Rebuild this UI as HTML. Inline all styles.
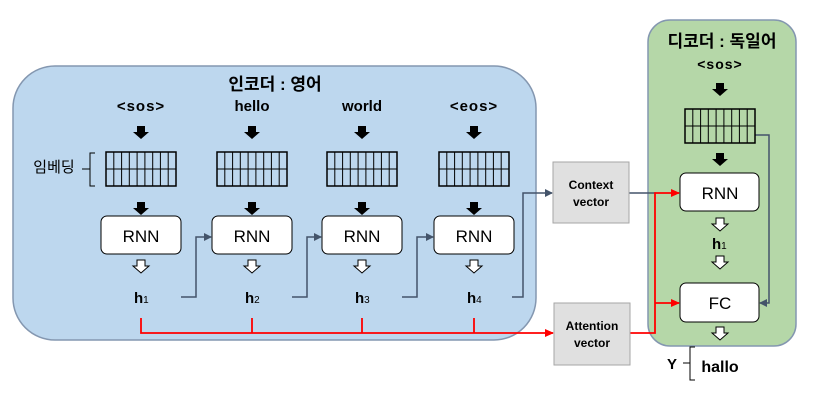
<!DOCTYPE html>
<html><head><meta charset="utf-8"><style>
body{margin:0;width:814px;height:412px;background:#fff;overflow:hidden}
text{font-family:"Liberation Sans","Noto Sans CJK KR",sans-serif}
</style></head><body>
<svg width="814" height="412" viewBox="0 0 814 412">
<defs>
<marker id="ag" markerWidth="8" markerHeight="8" refX="7" refY="4" orient="auto" markerUnits="userSpaceOnUse"><path d="M0,0 L8,4 L0,8 Z" fill="#44546a"/></marker>
<marker id="ar" markerWidth="9" markerHeight="8" refX="8" refY="4" orient="auto" markerUnits="userSpaceOnUse"><path d="M0,0 L9,4 L0,8 Z" fill="#f00"/></marker>
<g id="grid"><rect x="0" y="0" width="70" height="34" fill="none" stroke="#000" stroke-width="1.5"/>
<path d="M0,17H70M7.8,0V34M15.6,0V34M23.3,0V34M31.1,0V34M38.9,0V34M46.7,0V34M54.4,0V34M62.2,0V34" stroke="#000" stroke-width="1"/></g>
<path id="ba" d="M-4,0H4V6H8L0,13L-8,6H-4Z" fill="#000"/>
<path id="wa" d="M-4,0H4V6H8L0,13L-8,6H-4Z" fill="#fff" stroke="#000" stroke-width="1"/>
</defs>
<rect x="13" y="66" width="523" height="274" rx="42" fill="#bdd7ee" stroke="#8497b0" stroke-width="1.5"/>
<rect x="648" y="20" width="148" height="326" rx="22" fill="#b5d7a8" stroke="#8497b0" stroke-width="1.5"/>
<text x="275" y="90" font-size="17" font-weight="bold" text-anchor="middle">인코더 : 영어</text>
<text x="722" y="47" font-size="17" font-weight="bold" text-anchor="middle">디코더 : 독일어</text>
<text x="54" y="172" font-size="15" text-anchor="middle">임베딩</text>
<path d="M95,153 H90 V169 H82 M90,169 V186 H95" fill="none" stroke="#000"/>
<g font-size="15" font-weight="bold" text-anchor="middle">
<text x="141" y="111" letter-spacing="1">&lt;sos&gt;</text><text x="252" y="111">hello</text><text x="362" y="111">world</text><text x="474" y="111" letter-spacing="1">&lt;eos&gt;</text>
<text x="720" y="69" font-size="14" letter-spacing="1">&lt;sos&gt;</text>
</g>
<g>
<use href="#ba" x="141" y="126"/><use href="#ba" x="252" y="126"/><use href="#ba" x="362" y="126"/><use href="#ba" x="474" y="126"/>
<use href="#grid" x="106" y="152"/><use href="#grid" x="217" y="152"/><use href="#grid" x="327" y="152"/><use href="#grid" x="439" y="152"/>
<use href="#ba" x="141" y="202"/><use href="#ba" x="252" y="202"/><use href="#ba" x="362" y="202"/><use href="#ba" x="474" y="202"/>
<use href="#wa" x="141" y="260"/><use href="#wa" x="252" y="260"/><use href="#wa" x="362" y="260"/><use href="#wa" x="474" y="260"/>
</g>
<g fill="#fff" stroke="#000" stroke-width="1">
<rect x="101" y="216" width="80" height="38" rx="6"/><rect x="212" y="216" width="80" height="38" rx="6"/><rect x="322" y="216" width="80" height="38" rx="6"/><rect x="434" y="216" width="80" height="38" rx="6"/>
<rect x="680" y="173" width="79" height="38" rx="6"/><rect x="680" y="283" width="79" height="39" rx="6"/>
</g>
<g font-size="17" text-anchor="middle">
<text x="141" y="242">RNN</text><text x="252" y="242">RNN</text><text x="362" y="242">RNN</text><text x="474" y="242">RNN</text>
<text x="720" y="199">RNN</text><text x="720" y="309">FC</text>
</g>
<g font-size="15" font-weight="bold">
<text x="134" y="303">h<tspan font-size="10" font-weight="normal">1</tspan></text>
<text x="245" y="303">h<tspan font-size="10" font-weight="normal">2</tspan></text>
<text x="355" y="303">h<tspan font-size="10" font-weight="normal">3</tspan></text>
<text x="467" y="303">h<tspan font-size="10" font-weight="normal">4</tspan></text>
<text x="712" y="249">h<tspan font-size="10" font-weight="normal">1</tspan></text>
</g>
<g fill="none" stroke="#44546a" stroke-width="1.5">
<path d="M181,297H196V237H211" marker-end="url(#ag)"/>
<path d="M292,297H307V237H321" marker-end="url(#ag)"/>
<path d="M402,297H417V237H433" marker-end="url(#ag)"/>
<path d="M512,297H523V193H552" marker-end="url(#ag)"/>
<path d="M629,193H656"/>
<path d="M755,135H769V303H760" marker-end="url(#ag)"/>
</g>
<g fill="none" stroke="#f00" stroke-width="1.8">
<path d="M141,318V333H553" marker-end="url(#ar)"/>
<path d="M252,318V333M362,318V333M474,318V333"/>
<path d="M630,333H655V193H679" marker-end="url(#ar)"/>
<path d="M655,303H679" marker-end="url(#ar)"/>
</g>
<rect x="553" y="162" width="76" height="61" fill="#e0e0e0" stroke="#a6a6a6"/>
<rect x="554" y="303" width="76" height="62" fill="#e0e0e0" stroke="#a6a6a6"/>
<g font-size="12" font-weight="bold" text-anchor="middle">
<text x="591" y="189">Context</text><text x="591" y="206">vector</text>
<text x="592" y="330">Attention</text><text x="592" y="347">vector</text>
</g>
<use href="#ba" x="720" y="83"/>
<use href="#grid" x="685" y="109"/>
<use href="#ba" x="720" y="153"/>
<use href="#wa" x="720" y="218"/>
<use href="#wa" x="720" y="256"/>
<use href="#wa" x="720" y="327"/>
<text x="672" y="369" font-size="15" font-weight="bold" text-anchor="middle">Y</text>
<path d="M695,347H690V363H683M690,363V380H695" fill="none" stroke="#000"/>
<text x="720" y="372" font-size="16" font-weight="bold" text-anchor="middle">hallo</text>
</svg>
</body></html>
